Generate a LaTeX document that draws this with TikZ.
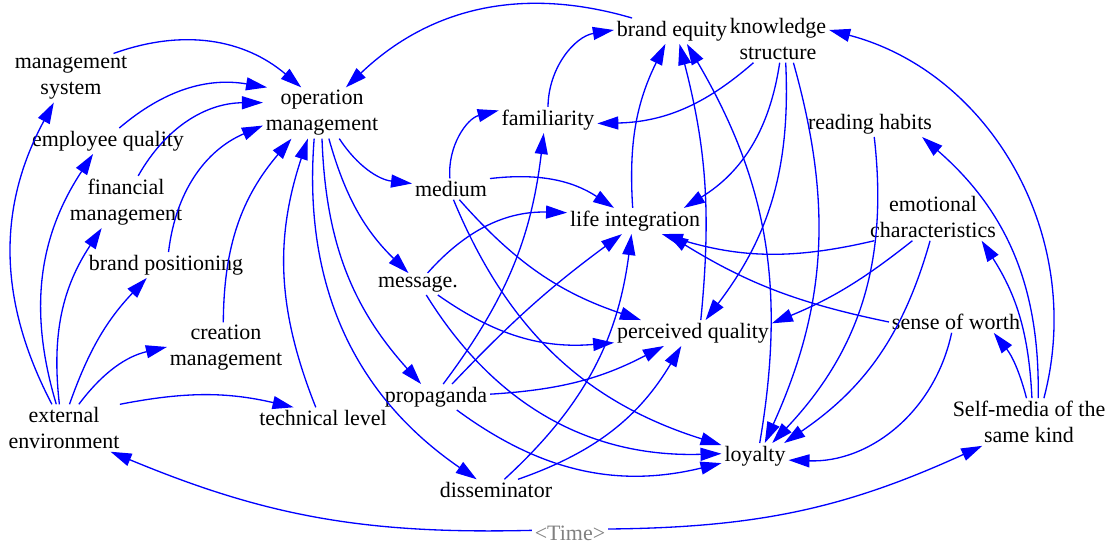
\documentclass[tikz,border=0pt]{standalone}
\usepackage{fontspec}
\setmainfont{Liberation Serif}
\usetikzlibrary{arrows.meta}
\definecolor{linkblue}{RGB}{0,0,255}
\definecolor{timegray}{RGB}{128,128,128}

\begin{document}
\begin{tikzpicture}[
    x=0.02cm, y=-0.02cm,
    var/.style={align=center, font=\fontsize{12.5}{14.8}\selectfont, inner sep=1.5pt},
    shadowvar/.style={var, text=timegray},
    link/.style={draw=linkblue, line width=0.75pt, -{Triangle[length=0.42cm, width=0.26cm]}},
]
    \useasboundingbox (0,0) rectangle (1111,545);

    % Left side: management variables
    \node[var] (mgmtsys) at (71,78) {management\\system};
    \node[var] (empq) at (108,141) {employee quality};
    \node[var] (finm) at (126,202) {financial\\management};
    \node[var] (brandpos) at (166,265) {brand positioning};
    \node[var] (creation) at (226,348) {creation\\management};
    \node[var] (extenv) at (64,428) {external\\environment};
    \node[var] (tech) at (323,418) {technical level};
    \node[var] (opm) at (322,113) {operation\\management};

    % Middle: communication
    \node[var] (medium) at (451,189) {medium};
    \node[var] (message) at (418,284) {message.};
    \node[var] (propaganda) at (436,397) {propaganda};
    \node[var] (dissem) at (496,490) {disseminator};
    \node[var] (famil) at (548,120) {familiarity};
    \node[var] (lifeint) at (635,221) {life integration};
    \node[var] (equity) at (672,31) {brand equity};
    \node[var] (perceived) at (693,333) {perceived quality};
    \node[var] (loyalty) at (755,456) {loyalty};

    % Right side: audience
    \node[var] (knowl) at (778,39) {knowledge\\structure};
    \node[var] (reading) at (870,124) {reading habits};
    \node[var] (emot) at (933,217) {emotional\\characteristics};
    \node[var] (worth) at (956,322) {sense of worth};
    \node[var] (selfmedia) at (1029,422) {Self-media of the\\same kind};
    \node[shadowvar] (time) at (570,533) {<Time>};

    % Into operation management
    \draw[link] (mgmtsys.30) to[bend left=30] (opm.129);
    \draw[link] (empq.49) to[bend left=25] (opm.155);
    \draw[link] (finm.65) to[bend left=30] (opm.170);
    \draw[link] (brandpos.79) to[bend left=30] (opm.192);
    \draw[link] (creation.96) to[bend left=20] (opm.220);
    \draw[link] (tech.124) to[bend left=20] (opm.241);
    \draw[link] (equity.162) to[bend right=30] (opm.47);

    % From external environment
    \draw[link] (extenv.117) to[bend left=28] (mgmtsys.235);
    \draw[link] (extenv.108) to[bend left=25] (empq.221);
    \draw[link] (extenv.101) to[bend left=20] (finm.227);
    \draw[link] (extenv.77) to[bend left=12] (brandpos.214);
    \draw[link] (extenv.58) to[bend left=20] (creation.179);
    \draw[link] (extenv.23) to[bend left=12] (tech.160);

    % From operation management
    \draw[link] (opm.-56) to[bend right=25] (medium.172);
    \draw[link] (opm.-75) to[bend right=15] (message.131);
    \draw[link] (opm.-90) to[bend right=20] (propaganda.139);
    \draw[link] (opm.-107) to[bend right=30] (dissem.151);

    % From medium, message, propaganda, disseminator
    \draw[link] (medium.96) to[bend left=40] (famil.169);
    \draw[link] (medium.15) to[bend left=20] (lifeint.148);
    \draw[link] (medium.-52) to[bend right=15] (perceived.166);
    \draw[link] (medium.-77) to[bend right=25] (loyalty.162);
    \draw[link] (message.49) to[bend left=25] (lifeint.173);
    \draw[link] (message.-29) to[bend right=20] (perceived.187);
    \draw[link] (message.-53) to[bend right=30] (loyalty.176);
    \draw[link] (propaganda.61) to[bend right=15] (famil.252);
    \draw[link] (propaganda.39) to[bend left=5] (lifeint.225);
    \draw[link] (propaganda.3) to[bend right=12] (perceived.204);
    \draw[link] (propaganda.-32) to[bend right=25] (loyalty.192);
    \draw[link] (dissem.52) to[bend right=20] (lifeint.255);
    \draw[link] (dissem.26) to[bend right=20] (perceived.228);

    % Into brand equity
    \draw[link] (lifeint.100) to[bend left=15] (equity.243);
    \draw[link] (famil.90) to[bend left=40] (equity.179);
    \draw[link] (loyalty.70) to[bend right=20] (equity.-41);
    \draw[link] (perceived.59) to[bend right=10] (equity.-60);

    % From knowledge structure
    \draw[link] (knowl.224) to[bend left=20] (famil.-4);
    \draw[link] (knowl.-86) to[bend left=25] (lifeint.15);
    \draw[link] (knowl.-72) to[bend left=20] (perceived.46);
    \draw[link] (knowl.-57) to[bend left=20] (loyalty.53);

    % Right side
    \draw[link] (reading.-72) to[bend left=25] (loyalty.37);
    \draw[link] (emot.202) to[bend left=15] (lifeint.-26);
    \draw[link] (emot.229) to[bend left=8] (perceived.7);
    \draw[link] (emot.263) to[bend left=20] (loyalty.24);
    \draw[link] (worth.248) to[bend left=40] (loyalty.-7);
    \draw[link] (worth.180) to[bend left=10] (lifeint.-22);
    \draw[link] (selfmedia.96) to[bend right=12] (worth.-16);
    \draw[link] (selfmedia.83) to[bend right=15] (emot.-26);
    \draw[link] (selfmedia.69) to[bend right=25] (reading.-14);
    \draw[link] (selfmedia.58) to[bend right=45] (knowl.10);

    % Time
    \draw[link] (time.176) to[bend left=12] (extenv.-27);
    \draw[link] (time.6) to[bend right=12] (selfmedia.207);

\end{tikzpicture}
\end{document}
